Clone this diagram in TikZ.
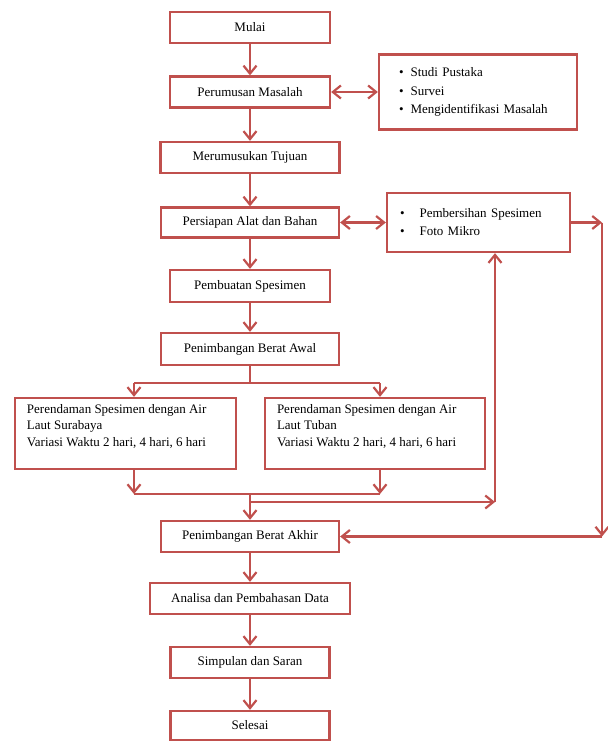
\documentclass[tikz,border=0pt]{standalone}
\usepackage{fontspec}
\setmainfont{Liberation Serif}
\usetikzlibrary{arrows.meta}
\definecolor{merah}{RGB}{192,80,77}
\tikzset{
  kotak/.style={draw=merah,line width=2.3pt,minimum height=31pt,fill=white,
    font=\fontsize{13}{17}\selectfont},
  panah/.style={merah,line width=2.2pt,-{Straight Barb[length=8pt,width=13pt]}},
  panahdua/.style={merah,line width=2.2pt,
    {Straight Barb[length=8pt,width=13pt]}-{Straight Barb[length=8pt,width=13pt]}},
  garis/.style={merah,line width=2.2pt},
}

\begin{document}
\begin{tikzpicture}[x=1pt,y=-1pt]
  \useasboundingbox (0,0) rectangle (608,742);
  % kolom utama
  \node[kotak,minimum width=160pt] (mulai) at (250,27.5) {Mulai};
  \node[kotak,minimum width=160pt] (rumus) at (250,92) {Perumusan Masalah};
  \node[kotak,minimum width=179pt] (tujuan) at (250,157.5) {Merumusukan Tujuan};
  \node[kotak,minimum width=178pt,minimum height=30pt] (siap) at (250,222.5) {Persiapan Alat dan Bahan};
  \node[kotak,minimum width=160pt,minimum height=32pt] (buat) at (250,286) {Pembuatan Spesimen};
  \node[kotak,minimum width=178pt,minimum height=32pt] (awal) at (250,349) {Penimbangan Berat Awal};
  \node[kotak,minimum width=178pt] (akhir) at (250,536.5) {Penimbangan Berat Akhir};
  \node[kotak,minimum width=200pt] (analisa) at (250,598.5) {Analisa dan Pembahasan Data};
  \node[kotak,minimum width=159pt] (simpulan) at (250,662.5) {Simpulan dan Saran};
  \node[kotak,minimum width=159pt,minimum height=29pt] (selesai) at (250,725.5) {Selesai};
  % kotak samping
  \node[kotak,font=\fontsize{13}{18.5}\selectfont,text width=158pt,inner xsep=20pt,
    minimum height=75pt,align=left] (pustaka) at (478,92)
    {\textbullet\hspace{7pt}Studi Pustaka\\
     \textbullet\hspace{7pt}Survei\\
     \textbullet\hspace{7pt}Mengidentifikasi Masalah};
  \node[kotak,font=\fontsize{13}{18}\selectfont,text width=157pt,inner xsep=13pt,
    minimum height=59pt,align=left] (bersih) at (478.5,222.5)
    {\textbullet\hspace{15pt}Pembersihan Spesimen\\
     \textbullet\hspace{15pt}Foto Mikro};
  \node[kotak,font=\fontsize{13}{16.5}\selectfont,inner xsep=12pt,inner ysep=6pt] (sby) at (125.5,433.5)
    {\parbox[t][59pt][t]{197pt}{Perendaman Spesimen dengan Air\\
     Laut Surabaya\\
     Variasi Waktu  2 hari, 4 hari, 6 hari}};
  \node[kotak,font=\fontsize{13}{16.5}\selectfont,inner xsep=12pt,inner ysep=6pt] (tbn) at (375,433.5)
    {\parbox[t][59pt][t]{196pt}{Perendaman Spesimen dengan Air\\
     Laut Tuban\\
     Variasi Waktu  2 hari, 4 hari, 6 hari}};
  % titik belok
  \coordinate (cabang) at (250,383);
  \coordinate (kiri) at (134,383);
  \coordinate (kanan) at (380,383);
  \coordinate (gabkiri) at (134,494);
  \coordinate (gabkanan) at (380,494);
  \coordinate (gab) at (250,494);
  \coordinate (belok) at (495,502);
  \coordinate (ujung) at (602,222.5);
  \coordinate (bawah) at (602,536.5);
  % panah
  \draw[panah] (mulai) -- (rumus);
  \draw[panahdua] (rumus) -- (pustaka);
  \draw[panah] (rumus) -- (tujuan);
  \draw[panah] (tujuan) -- (siap);
  \draw[panahdua] (siap) -- (bersih);
  \draw[panah] (siap) -- (buat);
  \draw[panah] (buat) -- (awal);
  \draw[garis] (awal) -- (cabang);
  \draw[garis] (kiri) -- (kanan);
  \draw[panah] (kiri) -- (kiri |- sby.north);
  \draw[panah] (kanan) -- (kanan |- tbn.north);
  \draw[panah] (kiri |- sby.south) -- (gabkiri);
  \draw[panah] (kanan |- tbn.south) -- (gabkanan);
  \draw[garis] (gabkiri) -- (gabkanan);
  \draw[panah] (gab) -- (akhir);
  \draw[panah] (gab |- belok) -- (belok);
  \draw[panah] (belok) -- (belok |- bersih.south);
  \draw[panah] (bersih) -- (ujung);
  \draw[panah] (ujung) -- (bawah);
  \draw[panah] (bawah) -- (akhir);
  \draw[panah] (akhir) -- (analisa);
  \draw[panah] (analisa) -- (simpulan);
  \draw[panah] (simpulan) -- (selesai);
\end{tikzpicture}
\end{document}
